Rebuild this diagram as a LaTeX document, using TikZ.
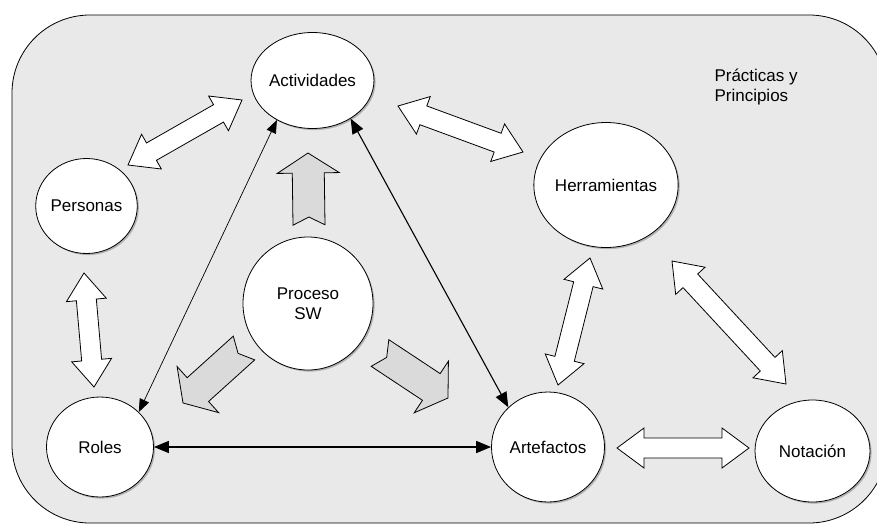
\documentclass[tikz,border=0pt]{standalone}
\usepackage{fontspec}
\setmainfont{Liberation Sans}
\usetikzlibrary{shapes.geometric,arrows.meta,shadows}
\definecolor{bggray}{RGB}{233,233,233}
\definecolor{arrgray}{RGB}{218,218,218}
\tikzset{
  lbl/.style={font=\fontsize{17}{20}\selectfont},
  circ/.style={ellipse, draw, fill=white, line width=0.8pt, inner sep=0pt, lbl, align=center,
    drop shadow={shadow xshift=1.6pt, shadow yshift=-1.6pt, fill=black!45, opacity=0.6}},
  whitearr/.style={draw, fill=white, line width=0.8pt, line join=miter},
  grayarrow/.style={draw, fill=arrgray, line width=0.8pt, line join=miter},
  blkline/.style={draw, {Triangle[length=13pt,width=10pt]}-{Triangle[length=13pt,width=10pt]}},
  blklinebig/.style={draw, {Triangle[length=15pt,width=12pt]}-{Triangle[length=15pt,width=12pt]}}
}
% double block arrow between two tips given in image pixel coordinates
\newcommand{\dblarr}[4]{%
  \pgfmathsetmacro{\da}{atan2((#2)-(#4),(#3)-(#1))}%
  \pgfmathsetmacro{\dl}{veclen((#3)-(#1),(#4)-(#2))}%
  \pgfmathsetmacro{\dm}{\dl-27}%
  \draw[whitearr,shift={(#1,-#2)},rotate=\da] (0,0) -- (27,20) -- (27,10) -- (\dm,10) -- (\dm,20) -- (\dl,0)
    -- (\dm,-20) -- (\dm,-10) -- (27,-10) -- (27,-20) -- cycle;}
% single notched block arrow from tail centre to tip
\newcommand{\grayarr}[4]{%
  \pgfmathsetmacro{\ga}{atan2((#2)-(#4),(#3)-(#1))}%
  \pgfmathsetmacro{\gl}{veclen((#3)-(#1),(#4)-(#2))}%
  \pgfmathsetmacro{\gm}{\gl-20}%
  \draw[grayarrow,shift={(#1,-#2)},rotate=\ga] (0,16) -- (\gm,16) -- (\gm,31) -- (\gl,0)
    -- (\gm,-31) -- (\gm,-16) -- (0,-16) -- (8,0) -- cycle;}
\begin{document}
\begin{tikzpicture}[x=1pt,y=1pt]
\useasboundingbox (0,0) rectangle (877,-525);
\clip (0,0) rectangle (877,-525);
\fill[white] (0,0) rectangle (877,-525);
\draw[fill=bggray, line width=0.8pt, rounded corners=78pt] (12,-15) rectangle (887,-523);

\node[lbl, align=left, anchor=west] (pp) at (711,-87) {Prácticas y\\Principios};

\node[circ, minimum width=105pt, minimum height=96pt] (act) at (312.5,-80.5) {Actividades};
\node[circ, minimum width=97pt, minimum height=95pt] (pers) at (86.5,-206) {Personas};
\node[circ, minimum width=120pt, minimum height=125pt] (herr) at (606,-185) {Herramientas};
\node[circ, minimum width=130pt, minimum height=133pt] (proc) at (308,-303.5) {Proceso\\SW};
\node[circ, minimum width=107pt, minimum height=100pt] (roles) at (100,-447) {Roles};
\node[circ, minimum width=113pt, minimum height=110pt] (art) at (548,-447) {Artefactos};
\node[circ, minimum width=115pt, minimum height=102pt] (nota) at (812.5,-451) {Notación};

% white double block arrows
\dblarr{128}{165}{242}{100}
\dblarr{84}{273}{94}{387}
\dblarr{398}{106}{523}{152}
\dblarr{590}{258}{558}{385}
\dblarr{672}{261}{786}{384}
\dblarr{617}{448}{749}{448}

% gray process arrows
\grayarr{309}{225}{308}{153}
\grayarr{244}{348}{183}{403}
\grayarr{380}{353}{448}{398}

% black connectors
\draw[blkline, line width=0.7pt] (act.228) -- (roles.42);
\draw[blklinebig, line width=1.1pt] (act.315) -- (art.135);
\draw[blklinebig, line width=1.6pt] (roles.east) -- (art.west);
\end{tikzpicture}
\end{document}
